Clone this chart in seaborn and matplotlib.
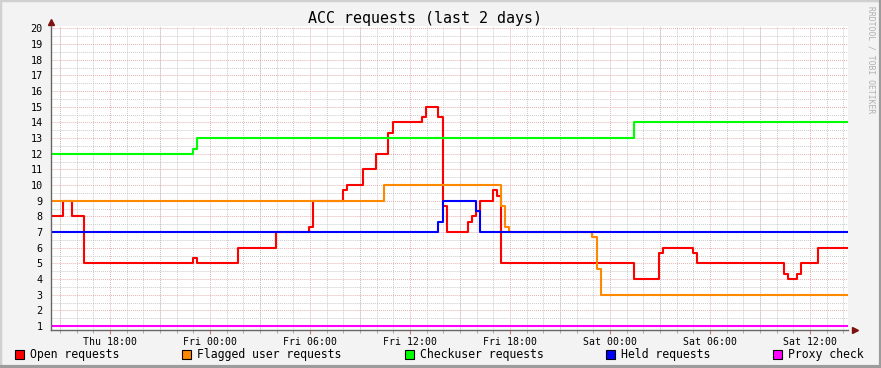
import matplotlib
matplotlib.use("Agg")
import matplotlib.pyplot as plt
import seaborn as sns
import pandas as pd
from matplotlib.patches import Rectangle
from matplotlib.lines import Line2D
from matplotlib.ticker import MultipleLocator

# ---------------- data (hours since Thu 00:00) ----------------
series_names = ["Open requests", "Flagged user requests", "Checkuser requests",
                "Held requests", "Proxy check"]
series_colors = ["#FF0000", "#FF8800", "#00FF00", "#0000FF", "#FF00FF"]

start_hour = 14.46
end_hour = 62.28

open_hours = [14.46, 15.16, 15.70, 16.46, 22.96, 23.24, 25.70, 27.96, 29.94, 30.20,
              31.96, 32.20, 33.16, 33.94, 34.68, 34.96, 36.72, 36.96, 37.66, 37.99,
              38.20, 39.46, 39.70, 39.94, 40.20, 41.00, 41.20, 41.44, 49.44, 50.94,
              51.16, 53.00, 53.20, 58.44, 58.66, 59.20, 59.44, 60.48]
open_vals = [8, 9, 8, 5, 5.33, 5, 6, 7, 7.33, 9,
             9.67, 10, 11, 12, 13.33, 14, 14.33, 15, 14.33, 8.67,
             7, 7.67, 8, 8.33, 9, 9.67, 9.33, 5, 4, 5.67,
             6, 5.67, 5, 4.33, 4, 4.33, 5, 6]

flagged_hours = [14.46, 34.44, 41.46, 41.70, 41.94, 46.94, 47.20, 47.46]
flagged_vals = [9, 10, 8.67, 7.33, 7, 6.67, 4.67, 3]

checkuser_hours = [14.46, 22.96, 23.24, 49.44]
checkuser_vals = [12, 12.33, 13, 14]

held_hours = [14.46, 37.66, 37.99, 39.94, 40.20]
held_vals = [7, 7.67, 9, 8.33, 7]

proxy_hours = [14.46]
proxy_vals = [1]

tick_hours = [18, 24, 30, 36, 42, 48, 54, 60]
tick_labels = ["Thu 18:00", "Fri 00:00", "Fri 06:00", "Fri 12:00",
               "Fri 18:00", "Sat 00:00", "Sat 06:00", "Sat 12:00"]
y_ticks = list(range(1, 21))

title = "ACC requests (last 2 days)"
watermark = "RRDTOOL / TOBI OETIKER"

# ---------------- build table ----------------
rows = []
for name, hrs, vals in zip(series_names,
                           [open_hours, flagged_hours, checkuser_hours, held_hours, proxy_hours],
                           [open_vals, flagged_vals, checkuser_vals, held_vals, proxy_vals]):
    for h, v in zip(hrs + [end_hour], vals + [vals[-1]]):
        rows.append({"series": name, "hour": h, "value": v})
df = pd.DataFrame(rows)

# ---------------- figure ----------------
sns.set_style("white")
plt.rcParams["font.family"] = ["DejaVu Sans Mono", "DejaVu Sans"]

W, H = 881, 368
fig = plt.figure(figsize=(W / 100, H / 100), dpi=100, facecolor="#F3F3F3")


def fx(x):
    return x / W


def fy(y):
    return 1 - y / H


ax = fig.add_axes([fx(51), fy(330), fx(848) - fx(51), fy(26) - fy(330)])
ax.set_facecolor("white")

major_grid = "#E3A6A6"
minor_grid = "#C4C4C4"

ax.set_xlim(start_hour, end_hour)
ax.set_ylim(0.745, 20.15)
ax.xaxis.set_minor_locator(MultipleLocator(1))
ax.yaxis.set_minor_locator(MultipleLocator(0.5))
ax.grid(True, which="minor", color=minor_grid, linestyle=(0, (1, 1.2)), linewidth=0.65)
ax.grid(True, which="major", color=major_grid, linestyle=(0, (1, 1.2)), linewidth=0.65)
ax.set_axisbelow(True)

sns.lineplot(data=df, x="hour", y="value", hue="series", hue_order=series_names,
             palette=dict(zip(series_names, series_colors)), drawstyle="steps-post",
             estimator=None, sort=False, legend=False, linewidth=1.5, ax=ax)

ax.set_yticks(y_ticks)
ax.set_yticklabels([str(v) for v in y_ticks])
ax.set_xticks(tick_hours)
ax.set_xticklabels(tick_labels)
ax.tick_params(axis="y", which="major", length=2, width=0.8, color="#D08080",
               pad=4, labelsize=7.3, labelcolor="#000000")
ax.tick_params(axis="y", which="minor", length=2, width=0.8, color="#B0B0B0")
ax.tick_params(axis="x", which="major", length=3, width=0.8, color="#D08080",
               pad=2, labelsize=7.1, labelcolor="#000000", bottom=True)
ax.tick_params(axis="x", which="minor", length=2, width=0.8, color="#B0B0B0", bottom=True)
for h in range(15, 63, 3):
    if h not in tick_hours:
        ax.axvline(h, color=major_grid, linestyle=(0, (1, 1.2)), linewidth=0.65, zorder=0.5)
ax.set_xlabel("")
ax.set_ylabel("")

for s in ["top", "right"]:
    ax.spines[s].set_visible(False)
for s in ["left", "bottom"]:
    ax.spines[s].set_color("#666666")
    ax.spines[s].set_linewidth(1.0)

ax.plot([0], [1.012], marker="^", markersize=5, color="#7F1010", transform=ax.transAxes,
        clip_on=False)
ax.plot([1.009], [0], marker=">", markersize=5, color="#7F1010", transform=ax.transAxes,
        clip_on=False)

fig.text(fx(425), fy(19), title, ha="center", va="center", fontsize=10.8, color="#000000")

fig.text(fx(871), fy(60), watermark, ha="center", va="center", rotation=270,
         fontsize=5.8, color="#B0B0B0")

leg_sq_x = [15, 182, 405, 606, 773]
for x0, name, col in zip(leg_sq_x, series_names, series_colors):
    fig.add_artist(Rectangle((fx(x0), fy(359)), fx(9), 9 / H, transform=fig.transFigure,
                             facecolor=col, edgecolor="#000000", linewidth=0.8))
    fig.text(fx(x0 + 15), fy(354.5), name, ha="left", va="center", fontsize=8.3,
             color="#000000")

fig.add_artist(Line2D([0, 0, 1], [0, 1, 1], transform=fig.transFigure, color="#D0D0D0",
                      linewidth=2.5))
fig.add_artist(Line2D([0, 1, 1], [0.003, 0.003, 1], transform=fig.transFigure,
                      color="#9C9C9C", linewidth=3))

fig.savefig("out.png", dpi=100, facecolor=fig.get_facecolor())
